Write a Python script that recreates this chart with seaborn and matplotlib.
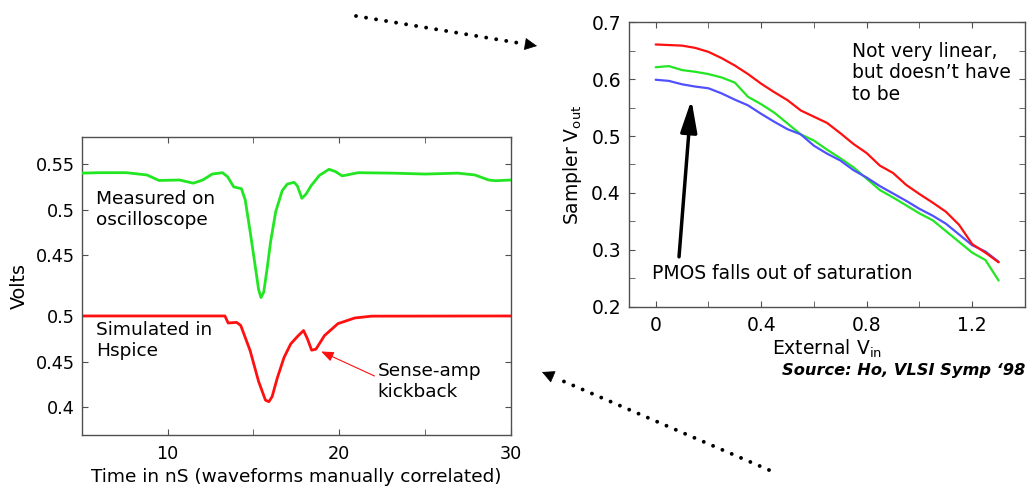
import numpy as np
import pandas as pd
import matplotlib
matplotlib.use("Agg")
import matplotlib.pyplot as plt
import seaborn as sns
from matplotlib.lines import Line2D
from matplotlib.patches import FancyArrowPatch

# ---- data ----
# left panel: time in ns, volts
meas_t = [5.0, 6.0, 7.6, 8.8, 9.5, 10.7, 11.5, 12.05, 12.6, 13.2, 13.5, 13.85, 14.3, 14.52,
          14.81, 15.1, 15.3, 15.44, 15.6, 15.8, 16.0, 16.3, 16.68, 16.97, 17.37, 17.56,
          17.82, 18.06, 18.35, 18.84, 19.4, 19.78, 20.17, 21.1, 23.1, 25.0, 26.9, 27.9,
          28.7, 29.1, 30.0]
meas_v = [0.540, 0.5405, 0.5405, 0.538, 0.532, 0.5325, 0.529, 0.5325, 0.539, 0.5405,
          0.536, 0.525, 0.523, 0.511, 0.476, 0.439, 0.413, 0.404, 0.410, 0.436, 0.465,
          0.498, 0.521, 0.528, 0.530, 0.526, 0.5125, 0.517, 0.526, 0.5375, 0.5442,
          0.5417, 0.537, 0.5405, 0.540, 0.539, 0.540, 0.538, 0.5325, 0.5317, 0.5325]

sim_t = [5.0, 13.34, 13.53, 14.02, 14.26, 14.81, 15.3, 15.7, 15.9, 16.09, 16.39, 16.78,
         17.17, 17.56, 17.92, 18.15, 18.39, 18.64, 19.14, 19.92, 20.9, 21.89, 30.0]
sim_v = [0.5, 0.5, 0.4923, 0.493, 0.4897, 0.462, 0.4285, 0.408, 0.4063, 0.4119, 0.4322,
         0.4545, 0.4694, 0.4775, 0.4841, 0.4748, 0.4626, 0.4637, 0.4786, 0.4916, 0.4978,
         0.4998, 0.5]

# right panel: external Vin vs sampler Vout
vin = [0, .05, .1, .15, .2, .25, .3, .35, .4, .45, .5, .55, .6, .65, .7, .75, .8, .85,
       .9, .95, 1.0, 1.05, 1.1, 1.15, 1.2, 1.25, 1.3]
vout_red = [0.661, 0.660, 0.659, 0.655, 0.648, 0.637, 0.624, 0.609, 0.592, 0.577, 0.563,
            0.545, 0.534, 0.523, 0.505, 0.486, 0.470, 0.448, 0.435, 0.414, 0.398, 0.383,
            0.367, 0.344, 0.310, 0.295, 0.278]
vout_green = [0.621, 0.623, 0.616, 0.613, 0.609, 0.603, 0.594, 0.569, 0.556, 0.541, 0.522,
              0.503, 0.492, 0.476, 0.461, 0.445, 0.425, 0.405, 0.392, 0.378, 0.364, 0.352,
              0.333, 0.314, 0.295, 0.282, 0.246]
vout_blue = [0.599, 0.597, 0.591, 0.587, 0.584, 0.575, 0.564, 0.554, 0.539, 0.525, 0.512,
             0.503, 0.483, 0.469, 0.457, 0.440, 0.427, 0.412, 0.399, 0.386, 0.372, 0.360,
             0.346, 0.327, 0.308, 0.297, 0.279]

GREEN = "#22e622"
RED = "#ff1010"
BLUE = "#5050ff"
FRAME = "#505050"

sns.set_style("ticks")
plt.rcParams["font.family"] = ["DejaVu Sans"]
plt.rcParams["mathtext.default"] = "regular"
plt.rcParams["text.color"] = "black"
plt.rcParams["axes.labelcolor"] = "black"

W, H = 1029, 487
fig = plt.figure(figsize=(W / 100, H / 100), dpi=100)


def box(l, t, r, b):
    return [l / W, 1 - b / H, (r - l) / W, (b - t) / H]


def style(a, size):
    for s in a.spines.values():
        s.set_color(FRAME)
        s.set_linewidth(1.0)
        s.set_visible(True)
    a.tick_params(which="both", direction="in", top=True, right=True, length=4,
                  color=FRAME, labelsize=size, labelcolor="black")


# ---- left panel: two traces sharing one frame ----
pos = box(81.7, 137, 511, 435)
ax = fig.add_axes(pos)
ax_up = fig.add_axes(pos, sharex=ax)
ax_up.set_axis_off()
ax_up.patch.set_visible(False)

sns.lineplot(x=sim_t, y=sim_v, ax=ax, color=RED, lw=2, errorbar=None)
sns.lineplot(x=meas_t, y=meas_v, ax=ax_up, color=GREEN, lw=2, errorbar=None)

ax.set_xlim(5, 30)
lo_lim = (0.3699, 0.6956)
up_lim = (0.2538, 0.5795)
ax.set_ylim(*lo_lim)
ax_up.set_ylim(*up_lim)
off = lo_lim[1] - up_lim[1]

style(ax, 12.7)
ax.set_xticks([10, 20, 30])
ax.set_xticks([15, 25], minor=True)
ax.set_yticks([0.4, 0.45, 0.5, 0.45 + off, 0.5 + off, 0.55 + off])
ax.set_yticklabels(["0.4", "0.45", "0.5", "0.45", "0.5", "0.55"])
ax.tick_params(axis="y", pad=5)
ax.tick_params(axis="x", pad=7)
ax.set_xlabel("Time in nS (waveforms manually correlated)", fontsize=13.3, labelpad=4)
ax.set_ylabel("Volts", fontsize=13.8, labelpad=5)

ax_up.text(5.83, 0.5215, "Measured on\noscilloscope", fontsize=13.3, va="top", ha="left")
ax.text(5.83, 0.4944, "Simulated in\nHspice", fontsize=13.3, va="top", ha="left")
ax.text(22.24, 0.4496, "Sense-amp\nkickback", fontsize=13.3, va="top", ha="left")
ax.annotate("", xy=(18.94, 0.4612), xytext=(22.05, 0.4344),
            arrowprops=dict(arrowstyle="-|>,head_length=0.75,head_width=0.3",
                            mutation_scale=10, color=RED, lw=0.8,
                            shrinkA=0, shrinkB=0))

# ---- right panel ----
ax2 = fig.add_axes(box(629.3, 22.3, 1025, 306.7))
sns.lineplot(x=vin, y=vout_green, ax=ax2, color=GREEN, lw=1.6, errorbar=None)
sns.lineplot(x=vin, y=vout_blue, ax=ax2, color=BLUE, lw=1.6, errorbar=None)
sns.lineplot(x=vin, y=vout_red, ax=ax2, color=RED, lw=1.6, errorbar=None)
ax2.set_xlim(-0.1, 1.4)
ax2.set_ylim(0.2, 0.7)
style(ax2, 13.5)
ax2.set_xticks([0, 0.4, 0.8, 1.2])
ax2.set_xticklabels(["0", "0.4", "0.8", "1.2"])
ax2.set_xticks([0.2, 0.6, 1.0], minor=True)
ax2.set_yticks([0.2, 0.3, 0.4, 0.5, 0.6, 0.7])
ax2.set_yticklabels(["0.2", "0.3", "0.4", "0.5", "0.6", "0.7"])
ax2.set_yticks([0.25, 0.35, 0.45, 0.55, 0.65], minor=True)
ax2.tick_params(axis="y", pad=6)
ax2.tick_params(axis="x", pad=7)
ax2.set_xlabel("External V$_{in}$", fontsize=13.5, labelpad=2)
ax2.set_ylabel("Sampler V$_{out}$", fontsize=13.5, labelpad=5)

ax2.text(0.744, 0.665, "Not very linear,\nbut doesn\u2019t have\nto be", fontsize=13.5,
         va="top", ha="left", linespacing=1.15)
ax2.text(-0.013, 0.248, "PMOS falls out of saturation", fontsize=13.5, va="baseline",
         ha="left")
ax2.annotate("", xy=(0.1355, 0.5637), xytext=(0.0885, 0.2877),
             arrowprops=dict(arrowstyle="-|>,head_length=0.97,head_width=0.25",
                             mutation_scale=20, color="black", lw=2.5,
                             shrinkA=0, shrinkB=0))

fig.text(1025 / W, 1 - 375 / H, "Source: Ho, VLSI Symp \u201898", fontsize=11.7,
         fontweight="bold", fontstyle="italic", ha="right", va="baseline")


# ---- dotted pointers between the panels ----
def dotted_arrow(x0, y0, x1, y1):
    p0 = np.array([x0, H - y0], dtype=float)
    p1 = np.array([x1, H - y1], dtype=float)
    d = (p1 - p0) / np.hypot(*(p1 - p0))
    stop = p1 - d * 14
    fig.add_artist(Line2D([p0[0] / W, stop[0] / W], [p0[1] / H, stop[1] / H],
                          transform=fig.transFigure, color="black", lw=2.8,
                          linestyle=(0, (0.01, 2.6)), dash_capstyle="round"))
    head0 = p1 - d * 12
    fig.add_artist(FancyArrowPatch((head0[0] / W, head0[1] / H), (p1[0] / W, p1[1] / H),
                                   transform=fig.transFigure, arrowstyle="-|>",
                                   mutation_scale=20, color="black", lw=0.5,
                                   shrinkA=0, shrinkB=0))


dotted_arrow(356, 16, 537, 46)
dotted_arrow(769, 470, 542, 372)

fig.savefig("out.png", dpi=100, facecolor="white")
